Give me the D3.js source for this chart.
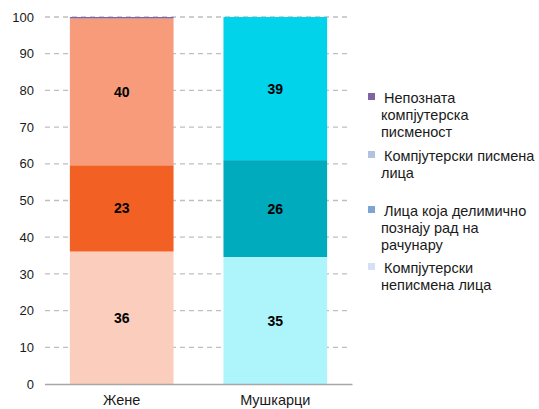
<!DOCTYPE html>
<html>

<head>
  <meta charset="utf-8">
  <script src="https://d3js.org/d3.v7.min.js"></script>
  <style>
    body {
      margin: 0;
      background: #fff;
    }

    text {
      font-family: "Liberation Sans", Arial, sans-serif;
      font-size: 13px;
      fill: #1a1a1a;
    }

    .grid line {
      stroke: #bfbfbf;
      stroke-width: 1.3;
      stroke-dasharray: 5, 4;
    }
  </style>
</head>

<body>
  <script>
    const width = 539;
    const height = 409;

    // подаци
    const categories = ["Жене", "Мушкарци"];
    const seriesNames = [
      "Компјутерски неписмена лица",
      "Лица која делимично познају рад на рачунару",
      "Компјутерски писмена лица",
      "Непозната компјутерска писменост"
    ];
    const неписмена = [36.1, 34.6];
    const делимично = [23.5, 26.4];
    const писмена = [40.0, 39.0];
    const непозната = [0.4, 0.0];
    const valueLabels = [["36", "23", "40"], ["35", "26", "39"]];
    const yTicks = [0, 10, 20, 30, 40, 50, 60, 70, 80, 90, 100];

    // боје стубова по категорији (од дна ка врху)
    const barColors = [
      ["#fbcdbd", "#f26024", "#f89b7b", "#8064a2"],
      ["#adf5fb", "#00abbe", "#00d3ea", "#8064a2"]
    ];
    // легенда (боје као у оригиналу)
    const legendItems = [
      { lines: ["Непозната", "компјутерска", "писменост"], color: "#8064a2", y: 98 },
      { lines: ["Компјутерски писмена", "лица"], color: "#b3c2de", y: 156 },
      { lines: ["Лица која делимично", "познају рад на", "рачунару"], color: "#7fa3d3", y: 211 },
      { lines: ["Компјутерски", "неписмена лица"], color: "#d5e0f7", y: 268 }
    ];

    const series = [неписмена, делимично, писмена, непозната];
    const rows = categories.map((c, i) => {
      const r = { category: c };
      seriesNames.forEach((s, k) => r[s] = series[k][i]);
      return r;
    });
    const stacked = d3.stack().keys(seriesNames)(rows);

    const svg = d3.select("body")
      .append("svg")
      .attr("width", width)
      .attr("height", height);

    const x = d3.scaleBand()
      .domain(categories)
      .range([45, 352])
      .paddingInner(0.325)
      .paddingOuter(0.162);

    const y = d3.scaleLinear()
      .domain([0, 100])
      .range([384, 17]);

    // мрежа
    svg.append("g")
      .attr("class", "grid")
      .selectAll("line")
      .data(yTicks.slice(1))
      .enter()
      .append("line")
      .attr("x1", 45)
      .attr("x2", 351)
      .attr("y1", d => y(d))
      .attr("y2", d => y(d));

    // Y оса
    const yAxis = svg.append("g")
      .attr("transform", "translate(45,0)")
      .call(d3.axisLeft(y).tickValues(yTicks).tickSize(0).tickPadding(11));
    yAxis.select(".domain").remove();
    yAxis.selectAll("text").style("font-size", "13px").style("font-family", null);

    // стубови
    stacked.forEach((layer, k) => {
      svg.append("g")
        .selectAll("rect")
        .data(layer)
        .enter()
        .append("rect")
        .attr("x", d => x(d.data.category))
        .attr("width", x.bandwidth())
        .attr("y", d => y(d[1]))
        .attr("height", d => y(d[0]) - y(d[1]))
        .attr("fill", (d, i) => barColors[i][k]);
    });

    // вредности
    stacked.slice(0, 3).forEach((layer, k) => {
      svg.append("g")
        .selectAll("text")
        .data(layer)
        .enter()
        .append("text")
        .attr("x", d => x(d.data.category) + x.bandwidth() / 2)
        .attr("y", d => y((d[0] + d[1]) / 2))
        .attr("dy", "0.36em")
        .attr("text-anchor", "middle")
        .style("font-weight", "bold")
        .style("font-size", "14px")
        .style("fill", "#000")
        .text((d, i) => valueLabels[i][k]);
    });

    // X оса
    const xAxis = svg.append("g")
      .attr("transform", "translate(0,384)")
      .call(d3.axisBottom(x).tickSize(0).tickPadding(11));
    xAxis.select(".domain")
      .attr("d", "M45,0.5H352.5")
      .attr("stroke", "#a6a6a6")
      .attr("stroke-width", 1.3);
    xAxis.selectAll("text").style("font-size", "14.5px").style("font-family", null);

    // легенда
    const legend = svg.append("g");
    legendItems.forEach(item => {
      legend.append("rect")
        .attr("x", 368)
        .attr("y", item.y - 5)
        .attr("width", 7)
        .attr("height", 7)
        .attr("fill", item.color);
      item.lines.forEach((line, j) => {
        legend.append("text")
          .attr("x", j === 0 ? 384 : 381)
          .attr("y", item.y + j * 17)
          .attr("dy", "0.35em")
          .style("font-size", "14.5px")
          .text(line);
      });
    });
  </script>
</body>

</html>
